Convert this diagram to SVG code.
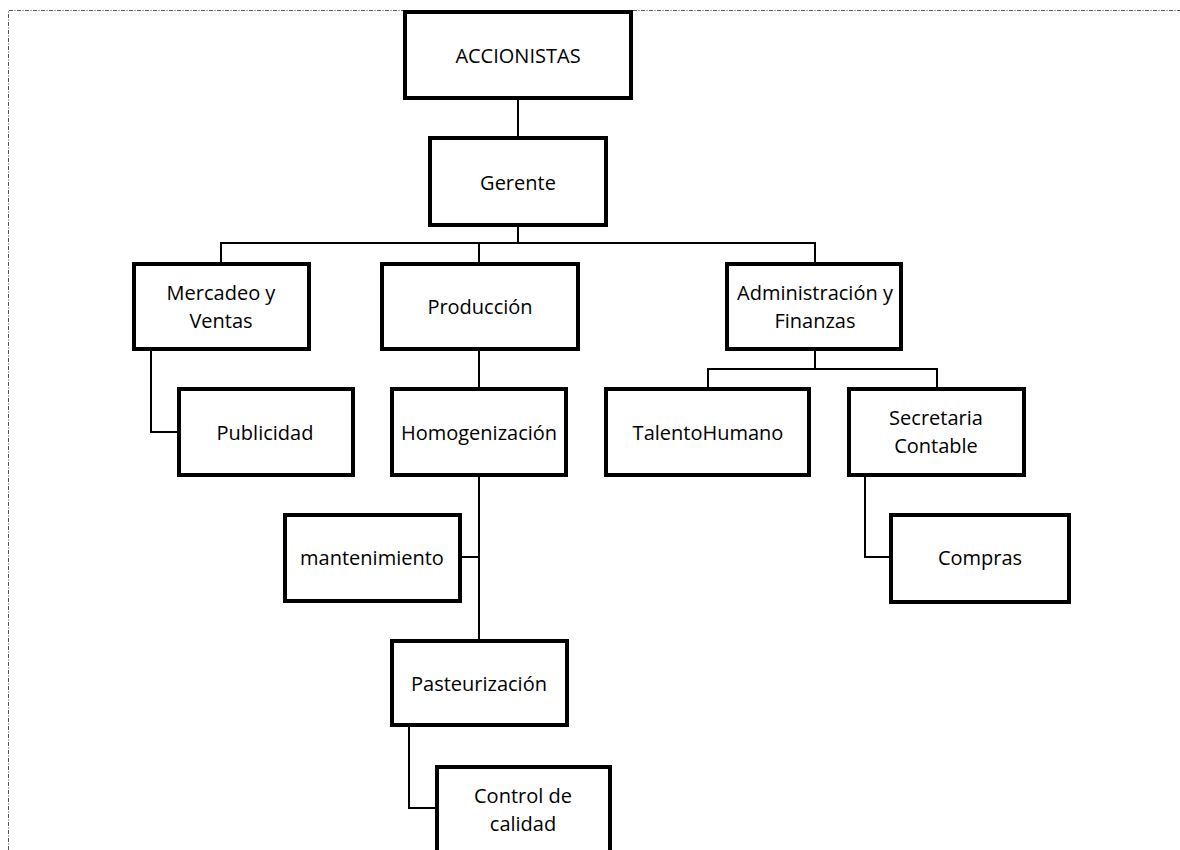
<svg xmlns="http://www.w3.org/2000/svg" width="1180" height="850" viewBox="0 0 1180 850">
<style>
.box{fill:#fff;stroke:#000;stroke-width:4}
.t{font-family:"Open Sans","Liberation Sans",sans-serif;font-size:20px;fill:#000;text-anchor:middle;dominant-baseline:central}
.c{fill:none;stroke:#000;stroke-width:2}
.frame{fill:none;stroke:#555;stroke-width:1;stroke-dasharray:4 1.5 1 1.5}
</style>
<rect width="1180" height="850" fill="#fff"/>
<path class="frame" d="M8.5,850 V10.5 H1180"/>
<g id="connectors">
<path class="c" d="M518,100 V136"/>
<path class="c" d="M518,227 V243"/>
<path class="c" d="M221,262 V243 H815 V262"/>
<path class="c" d="M479,243 V262"/>
<path class="c" d="M151,351 V432 H177"/>
<path class="c" d="M479,351 V387"/>
<path class="c" d="M479,477 V639"/>
<path class="c" d="M462,557 H479"/>
<path class="c" d="M409,727 V808 H435"/>
<path class="c" d="M815,351 V369"/>
<path class="c" d="M708,387 V369 H937 V387"/>
<path class="c" d="M865,477 V557 H889"/>
</g>
<g id="accionistas"><rect class="box" x="405" y="12" width="226" height="86"/><text class="t" x="518" y="55">ACCIONISTAS</text></g>
<g id="gerente"><rect class="box" x="430" y="138" width="176" height="87"/><text class="t" x="518" y="182">Gerente</text></g>
<g id="mercadeo"><rect class="box" x="134" y="264" width="175" height="85"/><text class="t" x="221" y="292">Mercadeo y</text><text class="t" x="221" y="320">Ventas</text></g>
<g id="produccion"><rect class="box" x="382" y="264" width="196" height="85"/><text class="t" x="480" y="306">Producción</text></g>
<g id="administracion"><rect class="box" x="727" y="264" width="174" height="85"/><text class="t" x="815" y="292">Administración y</text><text class="t" x="815" y="320">Finanzas</text></g>
<g id="publicidad"><rect class="box" x="179" y="389" width="174" height="86"/><text class="t" x="265" y="432">Publicidad</text></g>
<g id="homogenizacion"><rect class="box" x="392" y="389" width="174" height="86"/><text class="t" x="479" y="432">Homogenización</text></g>
<g id="talento"><rect class="box" x="606" y="389" width="203" height="86"/><text class="t" x="708" y="432">TalentoHumano</text></g>
<g id="secretaria"><rect class="box" x="849" y="389" width="175" height="86"/><text class="t" x="936" y="417">Secretaria</text><text class="t" x="936" y="445">Contable</text></g>
<g id="mantenimiento"><rect class="box" x="285" y="515" width="175" height="86"/><text class="t" x="372" y="557">mantenimiento</text></g>
<g id="compras"><rect class="box" x="891" y="515" width="178" height="87"/><text class="t" x="980" y="557">Compras</text></g>
<g id="pasteurizacion"><rect class="box" x="392" y="641" width="175" height="84"/><text class="t" x="479" y="683">Pasteurización</text></g>
<g id="control"><rect class="box" x="437" y="767" width="173" height="100"/><text class="t" x="523" y="795">Control de</text><text class="t" x="523" y="823">calidad</text></g>
</svg>
